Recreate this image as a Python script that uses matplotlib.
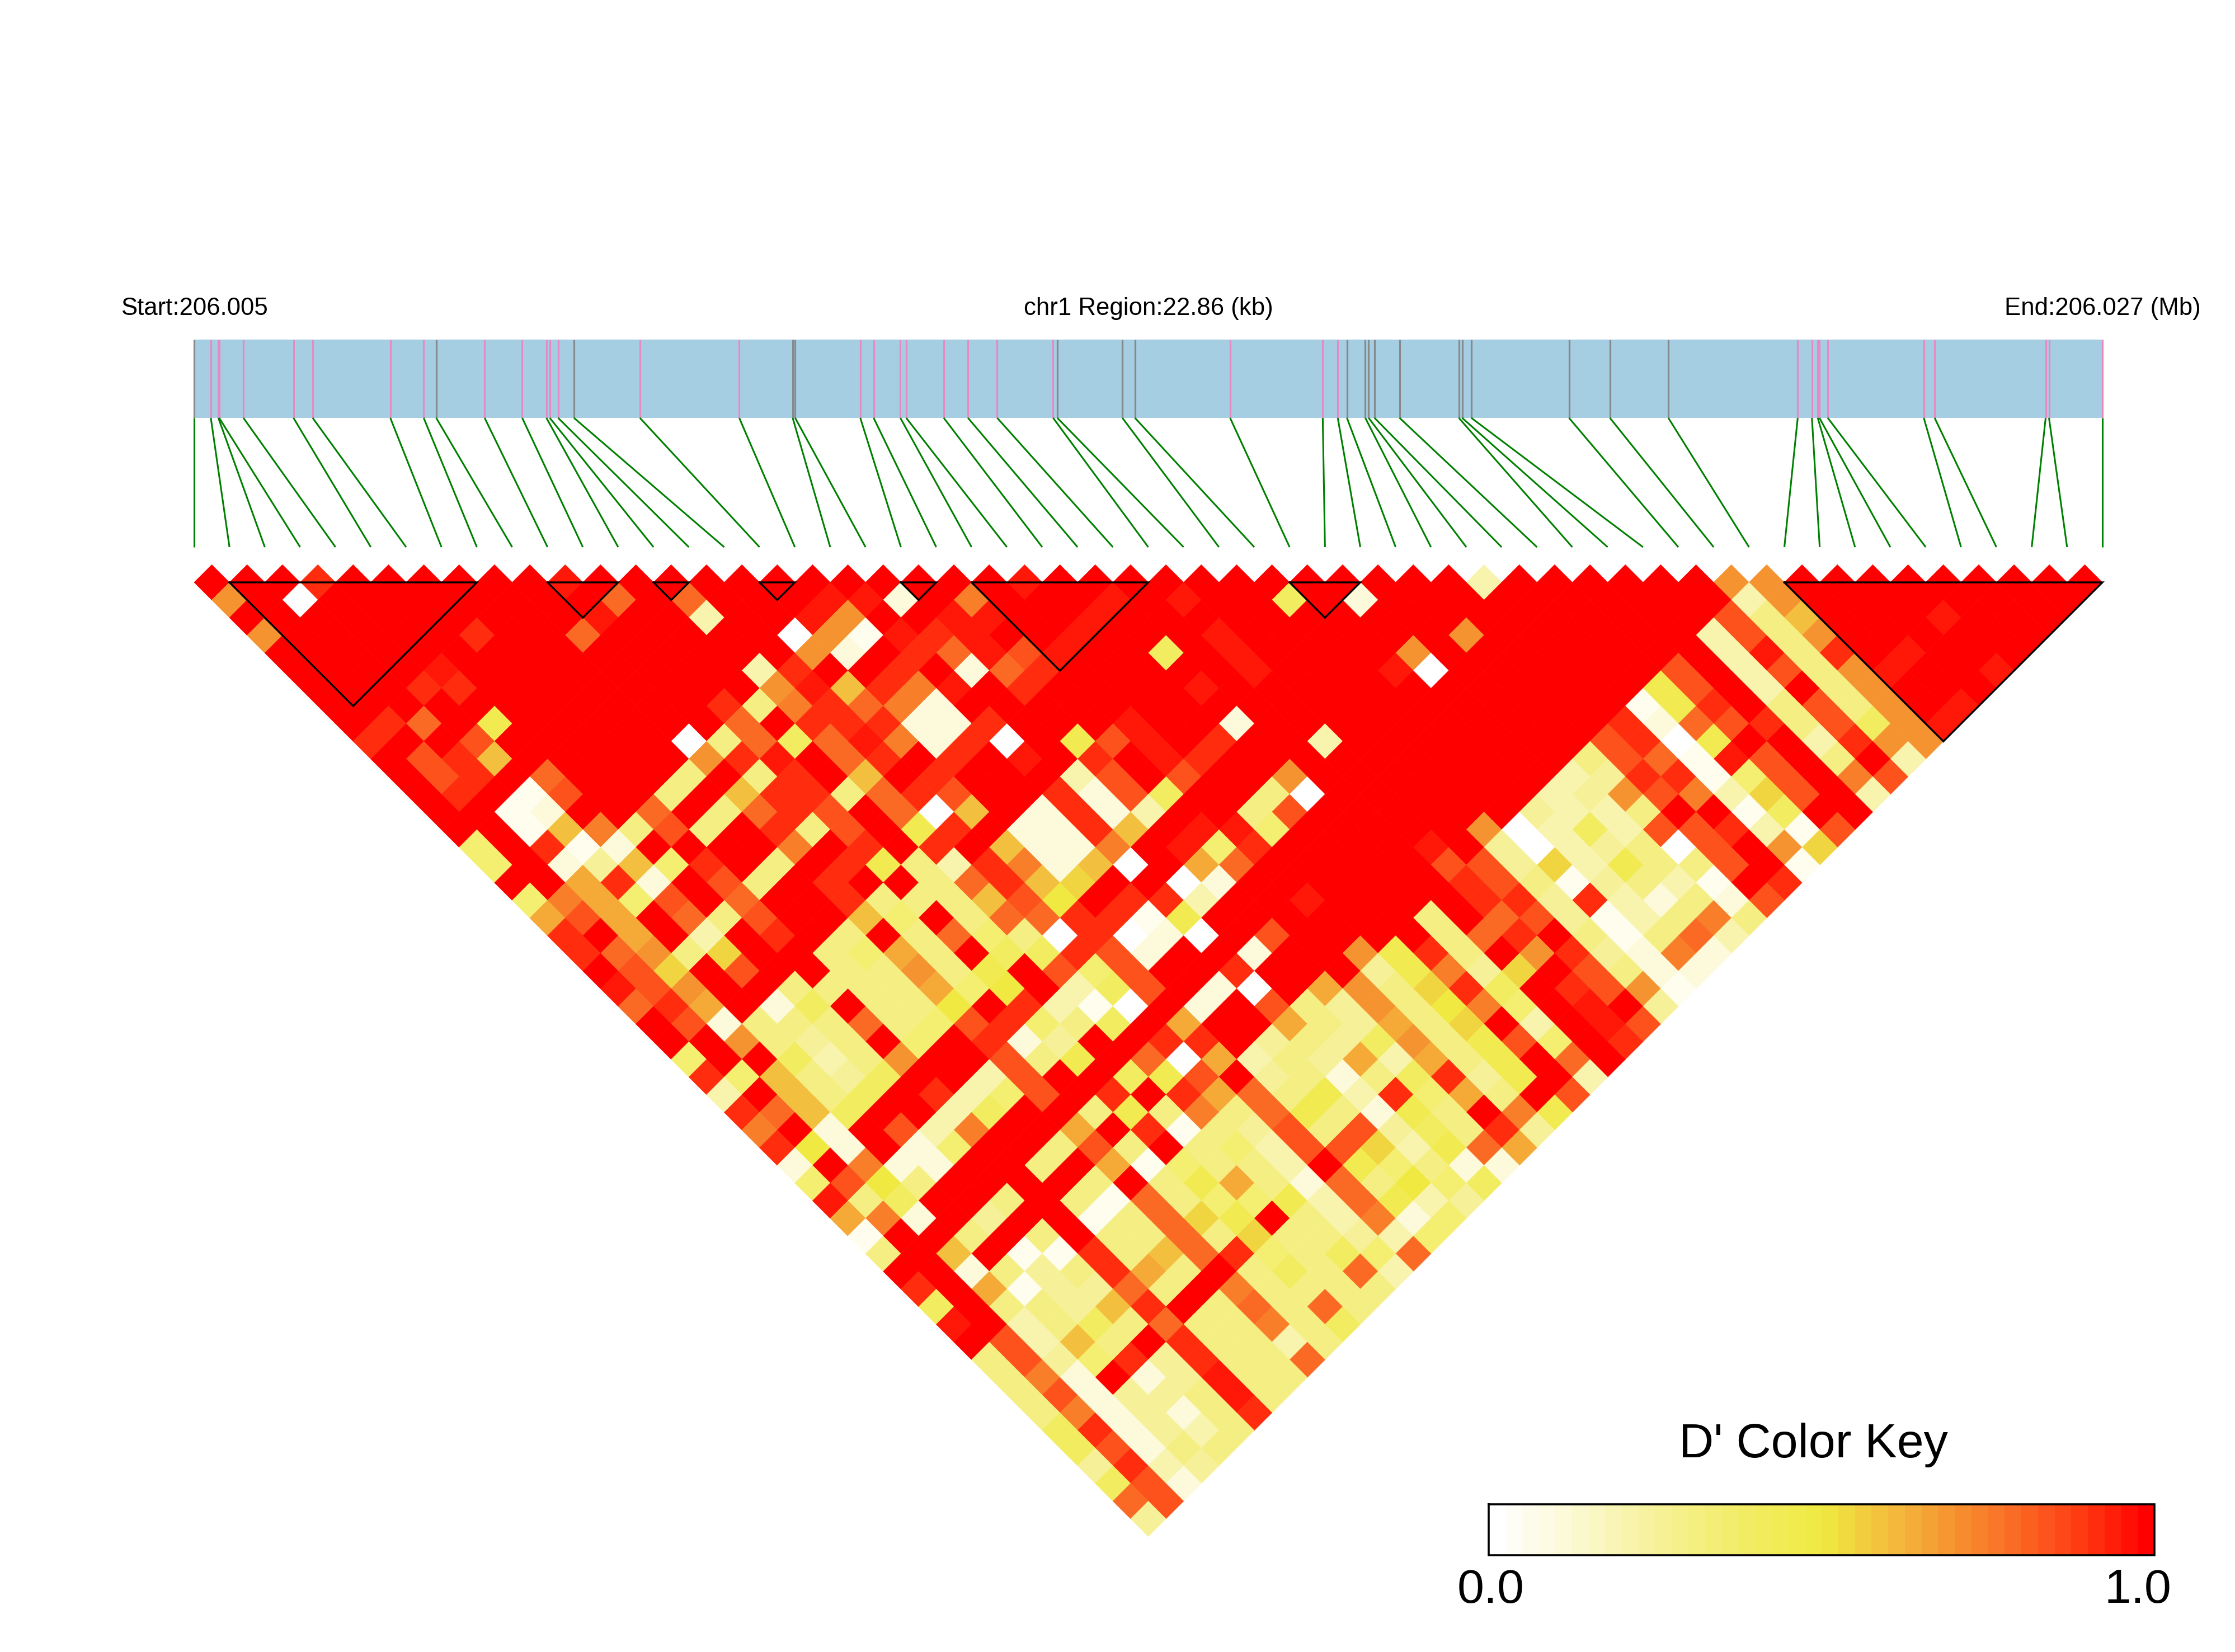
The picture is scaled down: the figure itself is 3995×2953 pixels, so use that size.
import numpy as np
import matplotlib
matplotlib.use("Agg")
import matplotlib.pyplot as plt
from matplotlib.collections import PolyCollection
from matplotlib.colors import LinearSegmentedColormap

plt.rcParams['font.family'] = ['Liberation Sans', 'DejaVu Sans']

# ---- data -----------------------------------------------------------------
snp_pos_kb = [0.00,0.20,0.29,0.30,0.59,1.19,1.42,2.35,2.75,2.90,3.48,3.93,4.22,4.26,4.36,4.55,5.34,6.53,7.17,7.20,
              7.98,8.14,8.46,8.53,8.98,9.27,9.62,10.29,10.34,11.12,11.27,12.41,13.52,13.70,13.81,14.03,14.07,14.14,14.44,15.15,15.19,15.30,
              16.47,16.96,17.66,19.21,19.38,19.45,19.47,19.57,20.72,20.85,22.18,22.22,22.86]
snp_class = "GPPPPPPPPGPPPPPGPPGG" + "PPPPPPPPGGGPPPGGGGGGGG" + "GGGPPPPPPPPPP"
ld_blocks = [(1,8),(10,12),(13,14),(16,17),(20,21),(22,27),(31,33),(45,54)]
labels_top = ["Start:206.005", "chr1 Region:22.86 (kb)", "End:206.027 (Mb)"]
key_title = "D' Color Key"
key_ticks = ["0.0", "1.0"]

# D' per SNP-pair: one string per distance between SNPs, one character per pair
code = {'0':0,'w':.05,'1':.1,'2':.2,'b':.25,'3':.3,'c':.35,'4':.4,'d':.45,'5':.5,'e':.55,
        '6':.6,'f':.65,'7':.7,'g':.75,'8':.8,'h':.85,'9':.92,'a':.96,'X':1.}
dprime_rows = [
"XXX9XXXXXX"+"aXXXXXXXXX"+"XXXaXXXXXX"+"XXXXXX2XXX"+"XXX77XXXXX"+"XXXX",
"7X0XXXXXXX"+"X8X8XXXaa1"+"XgXXXaXaXX"+"4X1XXXXXXX"+"XXX27XXXXX"+"XXX",
"XXXXXXXXXX"+"aXX2XXa7XX"+"aaXXaXXXXX"+"XXXXXXXXXX"+"XXh36XXXaX"+"XX",
"7XXXXX9XX8"+"XXXXX07wa9"+"aXXaXXXaXX"+"XXXX7XXXXX"+"X2h37XXXXX"+"X",
"XXXXXXXXXX"+"XXXXX71X98"+"ahaXX4XaXX"+"XX7XXXXXXX"+"X2a39XaXXX",
"XXXXaXXXXX"+"XXX29XX9X1"+"89XXXXXaXX"+"Xa0XXXXXXh"+"X2h37aXXa",
"XXX99XXXXX"+"XXX7a69gaX"+"9XXXXaXXXX"+"XXXXXXXXdh"+"X2X37XXX",
"XXXXXXXXXX"+"X93g98g1XX"+"XXXXXXXXXX"+"XXXXXXXwd9"+"X3h37Xa",
"X98XdXXXXX"+"X8X999119X"+"XXaXX1XXXX"+"XXXXXX918h"+"93h47a",
"9XXhXXXXX0"+"3848ag190X"+"dhaX9XX2XX"+"XXXXXh90dX"+"X2977",
"Xh96XXXXX7"+"9aX89X9XaX"+"9Xa9XXXXXX"+"XXXX3h8wah"+"X3X2",
"Xh9X8XXX3X"+"39X6X9XXX2"+"hXhXX7XXXX"+"XXX2b99wch"+"Xgh",
"X9XwhXX3X6"+"99389hXX91"+"h4XX30XXXX"+"XX2b7hg2eh"+"X2",
"XXw1XX8X38"+"9hX806X191"+"2XX3hXXXXX"+"Xb223XXw4X"+"X",
"XXw6g3h3X9"+"3hXd9X1196"+"XaacXXXXX7"+"0242hh92wh",
"cX9w1XXXXg"+"X9X9X611gX"+"ac9XXXXaXb"+"02b30hX7e",
"cX1b6c9X3X"+"9d329g160X"+"f8XXXXXhhb"+"e2d33hXw",
"XXf91Xh3X9"+"XX3896eXX0"+"1XXXXXX9h3"+"wb32wX9",
"cgfchX8XX9"+"3336h5X992"+"XXaXXXX99b"+"92131h",
"fhfX83hXX6"+"cX38899wdX"+"XXXXX3X8hb"+"w23g3",
"9XfX2X9X3X"+"38c309010X"+"hXXXX389X3"+"w382",
"9873eXX3cf"+"3X449h1XX1"+"XX7d93X79b"+"1g1",
"XheXhXX337"+"3dXhchXX9X"+"XXbdgbeXh3"+"11",
"ah7XX3333f"+"c5X24hX10X"+"f73e94X9h7"+"w",
"89fX14X335"+"X92w0X1Xh3"+"b735gcXaXb",
"Xh133383ch"+"9c34XfXXf3"+"bf3eX2Xah",
"XX73b3XcX9"+"1bXX99Xb3b"+"473dhcX9",
"cXX4237XXh"+"3dX80f23bf"+"2f3dX8X",
"9c63b4XX2h"+"XX4dhXb313"+"49bdX2",
"2X634X92ch"+"X9X9f83d29"+"cf3Xh",
"9864XX24XX"+"3d3g38d31d"+"3Xgd",
"gX1Xh2gXXf"+"X9w3bh3hb4"+"39b",
"951X1cXX3h"+"3X3c2hhe2d"+"8f",
"1Xg11XX3Xf"+"wc332Xdc31"+"1",
"ch53XXXX3X"+"3df31835c4",
"a34XX3X3w8"+"3ccd28d2b",
"fg1XbXXw38"+"edX32g1c",
"wXX3X3X338"+"3e33b2c",
"3X6Xww9368"+"9c34c8",
"XX13b39f3X"+"34382",
"9Xfwbb83Xg"+"3333",
"4X33b69X38"+"383",
"aX2343833g"+"34",
"Xh263X9332"+"3",
"3hbc9b9338",
"3g1X1ba33",
"3h1bb3a3",
"3g1b139",
"491b23",
"4h133",
"b92b",
"4h1",
"8h",
"b",
]

# ---- layout ---------------------------------------------------------------
W, H = 3995, 2953
X0, X1 = 347.0, 3758.0
BAR_T, BAR_B = 607, 747
LINE_END = 978
ROW0_Y = 1041.0
n_snp = len(snp_pos_kb)
STEP = (X1 - X0) / (n_snp - 1)
HALF = STEP / 2

fig = plt.figure(figsize=(W / 100, H / 100), dpi=100, facecolor='white')
ax = fig.add_axes([0, 0, 1, 1])
ax.set_xlim(0, W)
ax.set_ylim(H, 0)
ax.axis('off')

nodes = [(0, '#FFFFFF'), (.1, '#FCFADA'), (.2, '#F8F4AE'), (.3, '#F5EF82'), (.4, '#F2EC60'), (.5, '#F0EA42'),
         (.6, '#F3BF3E'), (.7, '#F69431'), (.8, '#FA6A24'), (.9, '#FF3A12'), (1, '#FF0000')]
cmap = LinearSegmentedColormap.from_list('dp', nodes, N=256)
cmap40 = LinearSegmentedColormap.from_list('dp40', nodes, N=40)

# heat-map cells
polys, vals = [], []
for r, row in enumerate(dprime_rows):
    assert len(row) == n_snp - 1 - r, (r, len(row))
    for c, ch in enumerate(row):
        cx = X0 + STEP * (c + (r + 1) / 2)
        cy = ROW0_Y + HALF * r
        polys.append([(cx - HALF, cy), (cx, cy - HALF), (cx + HALF, cy), (cx, cy + HALF)])
        vals.append(code[ch])
cells = PolyCollection(polys, array=np.array(vals), cmap=cmap, clim=(0, 1), edgecolors='face', linewidths=0.5)
ax.add_collection(cells)

# gene bar and SNP ticks
ax.fill_between([X0, X1], BAR_T, BAR_B, color='#A6CEE3', lw=0, zorder=2)
kb = np.array(snp_pos_kb)
px = X0 + kb / kb[-1] * (X1 - X0)
for p, cl in zip(px, snp_class):
    ax.plot([p, p], [BAR_T, BAR_B], color='#E78AC3' if cl == 'P' else '#868A8C', lw=2.3,
            solid_capstyle='butt', zorder=3)
for i, p in enumerate(px):
    ax.plot([p, X0 + STEP * i], [BAR_B, LINE_END], color='#008000', lw=2.2, solid_capstyle='butt', zorder=3)

# LD blocks
for a, b in ld_blocks:
    xa, xb = X0 + a * STEP, X0 + b * STEP
    ax.plot([xa, xb, (xa + xb) / 2, xa], [ROW0_Y, ROW0_Y, ROW0_Y + (xb - xa) / 2, ROW0_Y],
            color='black', lw=2.4, solid_joinstyle='miter', zorder=5)

# top labels
for t, x in zip(labels_top, [X0, (X0 + X1) / 2, X1]):
    ax.text(x, 563, t, fontsize=31.5, ha='center', va='baseline', color='black')

# colour key
KX0, KX1, KY0, KY1 = 2661, 3851, 2689, 2780
ax.pcolormesh(np.linspace(KX0, KX1, 41), [KY0, KY1], np.linspace(0, 1, 40)[None, :], cmap=cmap40, vmin=0, vmax=1, zorder=2)
ax.plot([KX0, KX1, KX1, KX0, KX0], [KY0, KY0, KY1, KY1, KY0], color='black', lw=2.6, zorder=3,
        solid_joinstyle='miter')
ax.text(3241, 2605, key_title, fontsize=62, ha='center', va='baseline')
ax.text(2665, 2865, key_ticks[0], fontsize=62, ha='center', va='baseline')
ax.text(3821, 2865, key_ticks[1], fontsize=62, ha='center', va='baseline')

fig.savefig('out.png', dpi=100, facecolor='white')
